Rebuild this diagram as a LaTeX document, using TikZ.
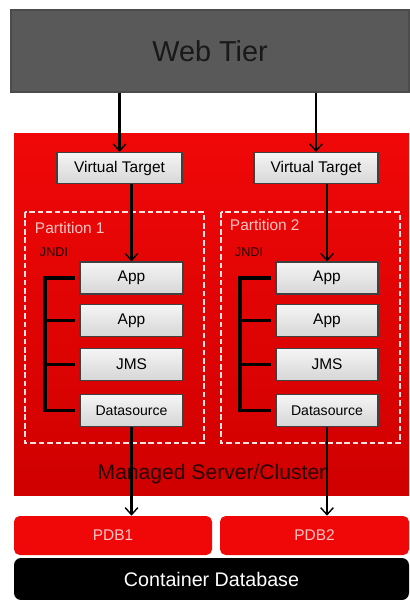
\documentclass[tikz,border=0pt]{standalone}
\usepackage{fontspec}
\setmainfont{Liberation Sans}
\usetikzlibrary{arrows.meta}
\definecolor{tierGray}{RGB}{89,89,89}
\definecolor{srvRed}{RGB}{240,8,8}
\definecolor{srvDark}{RGB}{208,0,0}
\definecolor{partPink}{RGB}{255,196,196}
\tikzset{
  arr/.style={line width=1.8pt, -{Straight Barb[length=5pt,width=9pt,line width=1pt]}},
  graybox/.style={draw=black!75, line width=0.8pt, top color=gray!8, bottom color=gray!32, font=\fontsize{11}{13}\selectfont},
  partbox/.style={draw=partPink!50!white, line width=1.6pt, dash pattern=on 4pt off 2pt},
  jndiline/.style={line width=2.2pt}
}

\begin{document}
\begin{tikzpicture}[x=0.025cm, y=-0.025cm]
			%%%%% START %%%%%
			\useasboundingbox (0, 0) rectangle (409, 600);
			
			\node[draw=black!70, line width=1pt, fill=tierGray, minimum width=398*0.025cm, minimum height=82*0.025cm, font=\fontsize{20.5}{24}\selectfont, text=black!90] (web) at (210, 51) {Web Tier};
			
			\shade[top color=srvRed, bottom color=srvDark] (14, 133) rectangle (409, 495);
			\node[font=\fontsize{15}{18}\selectfont, text=black!85!red] (msc) at (212, 474) {Managed Server/Cluster};
			
			\node[graybox, fill=gray!30, minimum width=125*0.025cm, minimum height=31*0.025cm] (vt1) at (119.5, 168) {Virtual Target};
			\node[graybox, fill=gray!30, minimum width=124*0.025cm, minimum height=31*0.025cm] (vt2) at (316, 168) {Virtual Target};
			
			\draw[partbox] (25, 212) rectangle (204, 443);
			\draw[partbox] (221, 212) rectangle (400, 443);
			\node[anchor=west, text=partPink, font=\fontsize{11}{13}\selectfont] (p1) at (30, 228) {Partition 1};
			\node[anchor=west, text=partPink, font=\fontsize{11}{13}\selectfont] (p2) at (225, 225) {Partition 2};
			\node[anchor=west, text=black!85!red, font=\fontsize{9}{11}\selectfont] (jndi1) at (35, 252) {JNDI};
			\node[anchor=west, text=black!85!red, font=\fontsize{9}{11}\selectfont] (jndi2) at (230, 252) {JNDI};
			
			% left partition
			\node[graybox, minimum width=103*0.025cm, minimum height=32*0.025cm] (appA1) at (131.5, 278) {App};
			\node[graybox, minimum width=103*0.025cm, minimum height=32*0.025cm] (appB1) at (131.5, 320.5) {App};
			\node[graybox, minimum width=103*0.025cm, minimum height=32*0.025cm] (jms1) at (131.5, 364.5) {JMS};
			\node[graybox, minimum width=103*0.025cm, minimum height=32*0.025cm, font=\fontsize{10}{12}\selectfont] (ds1) at (131.5, 410.5) {Datasource};
			
			% right partition
			\node[graybox, minimum width=102*0.025cm, minimum height=32*0.025cm] (appA2) at (327, 278) {App};
			\node[graybox, minimum width=102*0.025cm, minimum height=32*0.025cm] (appB2) at (327, 320.5) {App};
			\node[graybox, minimum width=102*0.025cm, minimum height=32*0.025cm] (jms2) at (327, 364.5) {JMS};
			\node[graybox, minimum width=102*0.025cm, minimum height=32*0.025cm, font=\fontsize{10}{12}\selectfont] (ds2) at (327, 410.5) {Datasource};
			
			% jndi brackets
			\draw[jndiline] ([xshift=-4*0.025cm]appA1.west) -| (45, 410.5) -- ([xshift=-4*0.025cm]ds1.west);
			\draw[jndiline] (45, 320.5) -- ([xshift=-4*0.025cm]appB1.west);
			\draw[jndiline] (45, 364.5) -- ([xshift=-4*0.025cm]jms1.west);
			\draw[jndiline] ([xshift=-4*0.025cm]appA2.west) -| (240, 410.5) -- ([xshift=-4*0.025cm]ds2.west);
			\draw[jndiline] (240, 320.5) -- ([xshift=-4*0.025cm]appB2.west);
			\draw[jndiline] (240, 364.5) -- ([xshift=-4*0.025cm]jms2.west);
			
			% database
			\node[fill=srvRed, rounded corners=4pt, minimum width=198*0.025cm, minimum height=39*0.025cm, text=partPink, font=\fontsize{11}{13}\selectfont] (pdb1) at (113, 535.5) {PDB1};
			\node[fill=srvRed, rounded corners=4pt, minimum width=189*0.025cm, minimum height=39*0.025cm, text=partPink, font=\fontsize{11}{13}\selectfont] (pdb2) at (314.5, 535.5) {PDB2};
			\node[fill=black, rounded corners=5pt, minimum width=395*0.025cm, minimum height=42*0.025cm, text=white, font=\fontsize{14}{16}\selectfont] (cdb) at (211.5, 579) {Container Database};
			
			% arrows
			\draw[arr] (web.south -| vt1.north) -- (vt1.north);
			\draw[arr] (web.south -| vt2.north) -- (vt2.north);
			\draw[arr] (vt1.south -| appA1.north) -- (appA1.north);
			\draw[arr] (vt2.south -| appA2.north) -- (appA2.north);
			\draw[arr] (ds1.south) -- (ds1.south |- pdb1.north);
			\draw[arr] (ds2.south) -- (ds2.south |- pdb2.north);
			
			%%%%% END %%%%%
		\end{tikzpicture}
\end{document}
